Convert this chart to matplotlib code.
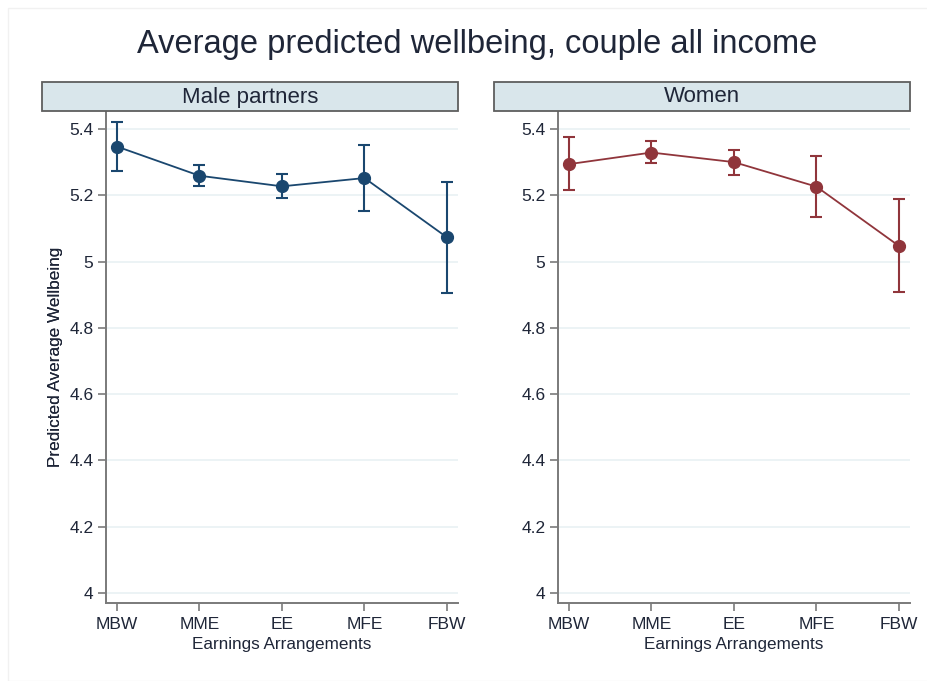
import matplotlib
matplotlib.use('Agg')
import matplotlib.pyplot as plt
from matplotlib.patches import Rectangle
import numpy as np

plt.rcParams['font.family'] = ['Liberation Sans', 'DejaVu Sans']

categories = ['MBW', 'MME', 'EE', 'MFE', 'FBW']

male_mean = [5.347, 5.259, 5.227, 5.252, 5.073]
male_lo = [5.273, 5.228, 5.192, 5.153, 4.905]
male_hi = [5.420, 5.290, 5.263, 5.353, 5.241]

women_mean = [5.294, 5.329, 5.300, 5.226, 5.047]
women_lo = [5.215, 5.296, 5.260, 5.134, 4.908]
women_hi = [5.375, 5.363, 5.337, 5.320, 5.188]

yticks = [4, 4.2, 4.4, 4.6, 4.8, 5, 5.2, 5.4]
ytick_labels = ['4', '4.2', '4.4', '4.6', '4.8', '5', '5.2', '5.4']

TEXT = '#1f2638'
SPINE = '#7a7a7a'
GRID = '#e9f1f3'

W, H = 928, 681
fig = plt.figure(figsize=(W / 100, H / 100), dpi=100)
fig.patch.set_facecolor('white')

# faint frame around the graph region
fig.add_artist(Rectangle((8 / W, 0), 1, 1 - 8 / H, transform=fig.transFigure,
                         fill=False, edgecolor='#f1f1f1', linewidth=1))

fig.text(477 / W, 1 - 44 / H, 'Average predicted wellbeing, couple all income',
         ha='center', va='center', fontsize=23.5, color=TEXT)

panels = [
    ('Male partners', male_mean, male_lo, male_hi, '#1a476f', 106, 42),
    ('Women', women_mean, women_lo, women_hi, '#90353b', 558, 494),
]

x = np.arange(1, len(categories) + 1)

for title, mean, lo, hi, color, ax_left, strip_left in panels:
    ax = fig.add_axes([ax_left / W, 78 / H, 352 / W, 492 / H])
    mean = np.array(mean)
    yerr = [mean - np.array(lo), np.array(hi) - mean]
    ax.errorbar(x, mean, yerr=yerr, color=color, linewidth=1.3,
                elinewidth=1.5, capsize=4.5, capthick=1.5,
                marker='o', markersize=8.5, zorder=3)

    ax.set_xlim(1 - 11 / 82.5, 5 + 11 / 82.5)
    ax.set_ylim(4 - 10 / 331.5, 5.4 + 18 / 331.5)
    ax.set_xticks(x)
    ax.set_xticklabels(categories)
    ax.set_yticks(yticks)
    ax.set_yticklabels(ytick_labels)
    ax.yaxis.grid(True, color=GRID, linewidth=1.2)
    ax.set_axisbelow(True)

    for side in ('top', 'right'):
        ax.spines[side].set_visible(False)
    for side in ('left', 'bottom'):
        ax.spines[side].set_color(SPINE)
        ax.spines[side].set_linewidth(1.4)

    ax.tick_params(axis='both', colors=SPINE, labelcolor=TEXT,
                   labelsize=12.5, length=6, width=1.2)
    ax.tick_params(axis='y', pad=3)
    ax.tick_params(axis='x', pad=4)

    ax.set_xlabel('Earnings Arrangements', fontsize=12.3, color=TEXT, labelpad=4)
    ax.set_ylabel('Predicted Average Wellbeing', fontsize=12.3, color=TEXT)
    ax.yaxis.set_label_coords((63 - ax_left) / 352, 0.5)

    # panel header strip
    strip = Rectangle((strip_left / W, 1 - 111 / H), (ax_left + 352 - strip_left) / W,
                      29 / H, transform=fig.transFigure, facecolor='#d9e6eb',
                      edgecolor='#5e5e5e', linewidth=1.3)
    fig.add_artist(strip)
    fig.text((strip_left + ax_left + 352) / 2 / W, 1 - 97 / H, title,
             ha='center', va='center', fontsize=16, color=TEXT)

fig.savefig('out.png', dpi=100)
print("saved: out.png")
